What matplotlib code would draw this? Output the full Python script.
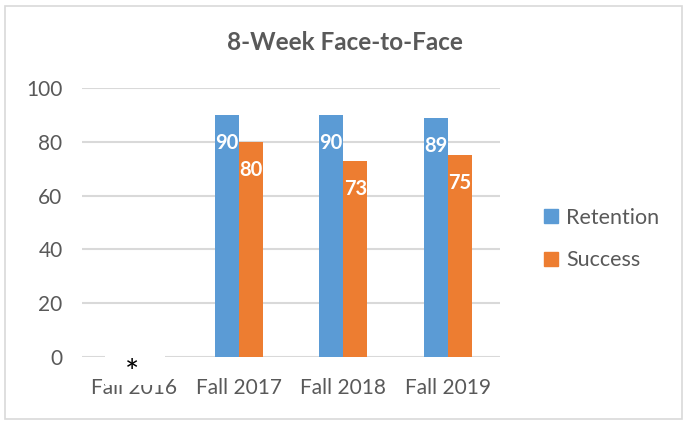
import matplotlib
matplotlib.use("Agg")
import matplotlib.pyplot as plt
import numpy as np
from matplotlib.patches import Rectangle, Patch

categories = ["Fall 2016", "Fall 2017", "Fall 2018", "Fall 2019"]
retention = [np.nan, 90, 90, 89]
success = [np.nan, 80, 73, 75]
series_names = ["Retention", "Success"]
colors = ["#5B9BD5", "#ED7D31"]

plt.rcParams['font.family'] = ['Lato', 'DejaVu Sans']

W, H = 686, 424
fig = plt.figure(figsize=(W/100, H/100), dpi=100)
ax = fig.add_axes([82/W, (H-357)/H, 418/W, 269/H])

x = np.arange(len(categories))
bw = 0.23
for vals, off, col in [(retention, -bw/2, colors[0]), (success, bw/2, colors[1])]:
    ax.bar(x + off, vals, width=bw, color=col, zorder=3)
    for xi, v in zip(x, vals):
        if not np.isnan(v):
            ax.annotate(f"{int(v)}", (xi + off, v), xytext=(0, -28), textcoords="offset pixels",
                        ha="center", va="center", color="white", fontsize=14.5, fontweight="bold", zorder=4)

ax.set_xlim(-0.5, 3.5)
ax.set_ylim(0, 100)
ax.set_yticks(np.arange(0, 101, 20))
ax.yaxis.grid(True, color="#D9D9D9", linewidth=1.5, zorder=0)
ax.set_axisbelow(True)
for s in ax.spines.values():
    s.set_visible(False)
ax.set_xticks(x)
ax.set_xticklabels(categories)
ax.tick_params(axis="both", length=0, labelsize=15, labelcolor="#595959")
ax.tick_params(axis="y", pad=14)
ax.tick_params(axis="x", pad=15)

fig.text(345/W, (H-42)/H, "8-Week Face-to-Face", ha="center", va="center",
         fontsize=17.5, fontweight="bold", color="#595959")

handles = [Patch(color=c) for c in colors]
leg = fig.legend(handles, series_names, loc="center left", bbox_to_anchor=(525/W, (H-239)/H),
                 frameon=False, fontsize=15.5, handlelength=0.65, handleheight=0.65,
                 handletextpad=0.35, labelspacing=1.05)
for t in leg.get_texts():
    t.set_color("#595959")

# white mask with asterisk
fig.patches.append(Rectangle((105/W, (H-385)/H), 60/W, 35/H, transform=fig.transFigure,
                             facecolor="white", edgecolor="none", zorder=5))
fig.text(132/W, (H-374)/H, "*", ha="center", va="center", fontsize=24,
         color="black", zorder=6)

# outer border
fig.patches.append(Rectangle((5/W, 5/H), 677/W, 413/H, transform=fig.transFigure,
                             facecolor="none", edgecolor="#D9D9D9", linewidth=1.2, zorder=7))

fig.savefig("out.png", dpi=100)
